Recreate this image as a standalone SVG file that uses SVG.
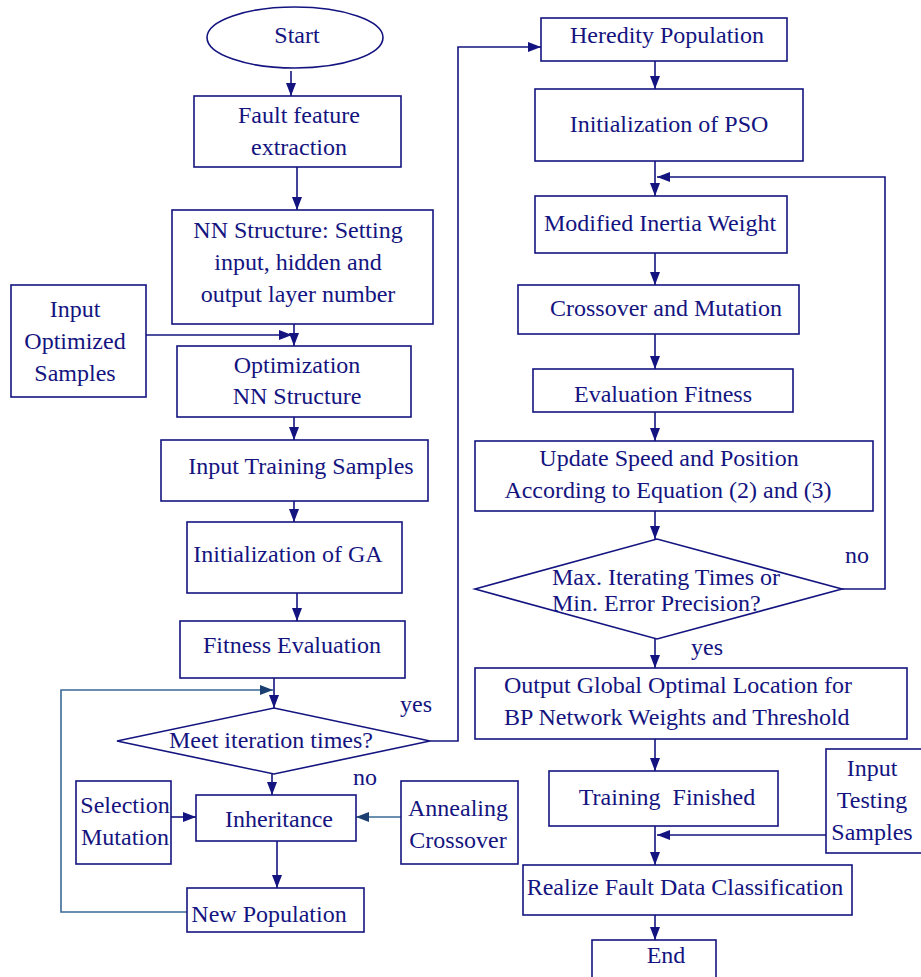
<svg xmlns="http://www.w3.org/2000/svg" width="921" height="977" viewBox="0 0 921 977">
<style>
.n rect,.n ellipse,.n polygon{fill:#fff;stroke:#141480;stroke-width:1.6}
text{font-family:"Liberation Serif","Times New Roman",serif;font-size:24px;fill:#141480;text-anchor:middle}
.s{text-anchor:start}
.c{fill:none;stroke:#141480;stroke-width:1.6}
.b{fill:none;stroke:#3a6a96;stroke-width:1.6}
</style>
<defs>
<marker id="a" markerUnits="userSpaceOnUse" markerWidth="14" markerHeight="11" refX="13" refY="5" orient="auto"><path d="M0,0 L13,5 L0,10 z" fill="#141480"/></marker>
<marker id="ab" markerUnits="userSpaceOnUse" markerWidth="14" markerHeight="11" refX="13" refY="5" orient="auto"><path d="M0,0 L13,5 L0,10 z" fill="#1a3f70"/></marker>
</defs>
<rect width="921" height="977" fill="#fff"/>
<g id="connectors">
<path class="c" d="M291,71 V96" marker-end="url(#a)"/>
<path class="c" d="M297,167 V210" marker-end="url(#a)"/>
<path class="c" d="M294,324 V346" marker-end="url(#a)"/>
<path class="c" d="M146,335 H292" marker-end="url(#a)"/>
<path class="c" d="M294,417 V440" marker-end="url(#a)"/>
<path class="c" d="M294,501 V522" marker-end="url(#a)"/>
<path class="c" d="M297,593 V621" marker-end="url(#a)"/>
<path class="c" d="M274,678 V708" marker-end="url(#a)"/>
<path class="b" d="M187,912 H61 V690 H273" marker-end="url(#ab)"/>
<path class="c" d="M430,741 H458 V47 H541" marker-end="url(#a)"/>
<path class="c" d="M272,774 V795" marker-end="url(#a)"/>
<path class="c" d="M171,817 H196" marker-end="url(#a)"/>
<path class="b" d="M401,817 H356" marker-end="url(#ab)"/>
<path class="c" d="M277,841 V888" marker-end="url(#a)"/>
<path class="c" d="M655,61 V89" marker-end="url(#a)"/>
<path class="c" d="M655,161 V196" marker-end="url(#a)"/>
<path class="c" d="M842,589 H885 V177 H657" marker-end="url(#a)"/>
<path class="c" d="M655,253 V285" marker-end="url(#a)"/>
<path class="c" d="M655,334 V369" marker-end="url(#a)"/>
<path class="c" d="M655,412 V441" marker-end="url(#a)"/>
<path class="c" d="M655,511 V539" marker-end="url(#a)"/>
<path class="c" d="M655,639 V668" marker-end="url(#a)"/>
<path class="c" d="M655,739 V771" marker-end="url(#a)"/>
<path class="c" d="M655,826 V865" marker-end="url(#a)"/>
<path class="c" d="M826,835 H657" marker-end="url(#a)"/>
<path class="c" d="M655,915 V940" marker-end="url(#a)"/>
<text x="416" y="712">yes</text>
<text x="365" y="785">no</text>
<text x="857" y="563">no</text>
<text x="707" y="655">yes</text>
</g>
<g id="start" class="n"><ellipse cx="295" cy="37.5" rx="88" ry="30.5"/><text x="297" y="43">Start</text></g>
<g id="fault" class="n"><rect x="194" y="96" width="207" height="71"/><text x="299" y="123">Fault feature</text><text x="299" y="155">extraction</text></g>
<g id="nnstructure" class="n"><rect x="172" y="210" width="261" height="114"/><text x="298" y="238">NN Structure: Setting</text><text x="298" y="270">input, hidden and</text><text x="298" y="302">output layer number</text></g>
<g id="inputopt" class="n"><rect x="11" y="285" width="135" height="112"/><text x="75" y="317">Input</text><text x="75" y="349">Optimized</text><text x="75" y="381">Samples</text></g>
<g id="optnn" class="n"><rect x="177" y="346" width="234" height="71"/><text x="297" y="373">Optimization</text><text x="297" y="404">NN Structure</text></g>
<g id="inputtrain" class="n"><rect x="161" y="440" width="267" height="61"/><text x="301" y="474">Input Training Samples</text></g>
<g id="initga" class="n"><rect x="187" y="522" width="215" height="71"/><text x="288" y="562">Initialization of GA</text></g>
<g id="fitness" class="n"><rect x="180" y="621" width="225" height="57"/><text x="292" y="653">Fitness Evaluation</text></g>
<g id="meet" class="n"><polygon points="117,741 274,708 430,741 274,774"/><text x="271" y="748">Meet iteration times?</text></g>
<g id="selection" class="n"><rect x="76" y="781" width="95" height="83"/><text x="125" y="813">Selection</text><text x="125" y="845">Mutation</text></g>
<g id="inheritance" class="n"><rect x="196" y="795" width="160" height="46"/><text x="279" y="827">Inheritance</text></g>
<g id="annealing" class="n"><rect x="401" y="781" width="117" height="83"/><text x="458" y="816">Annealing</text><text x="458" y="848">Crossover</text></g>
<g id="newpop" class="n"><rect x="187" y="888" width="177" height="44"/><text x="269" y="922">New Population</text></g>
<g id="heredity" class="n"><rect x="541" y="18" width="246" height="43"/><text x="667" y="43">Heredity Population</text></g>
<g id="initpso" class="n"><rect x="535" y="89" width="268" height="72"/><text x="669" y="132">Initialization of PSO</text></g>
<g id="inertia" class="n"><rect x="535" y="196" width="252" height="57"/><text x="660" y="231">Modified Inertia Weight</text></g>
<g id="crossmut" class="n"><rect x="518" y="285" width="281" height="49"/><text x="666" y="316">Crossover and Mutation</text></g>
<g id="evalfit" class="n"><rect x="533" y="369" width="260" height="43"/><text x="663" y="402">Evaluation Fitness</text></g>
<g id="update" class="n"><rect x="475" y="441" width="398" height="70"/><text x="669" y="466">Update Speed and Position</text><text x="668" y="498">According to Equation (2) and (3)</text></g>
<g id="maxiter" class="n"><polygon points="475,589 657,539 842,589 657,639"/><text class="s" x="552" y="585">Max. Iterating Times or</text><text class="s" x="552" y="611">Min. Error Precision?</text></g>
<g id="output" class="n"><rect x="475" y="668" width="432" height="71"/><text class="s" x="504" y="693">Output Global Optimal Location for</text><text class="s" x="504" y="725">BP Network Weights and Threshold</text></g>
<g id="training" class="n"><rect x="549" y="771" width="229" height="55"/><text x="667" y="805" style="white-space:pre">Training  Finished</text></g>
<g id="inputtest" class="n"><rect x="826" y="749" width="100" height="104"/><text x="872" y="776">Input</text><text x="872" y="808">Testing</text><text x="872" y="840">Samples</text></g>
<g id="realize" class="n"><rect x="523" y="865" width="329" height="50"/><text x="685" y="895">Realize Fault Data Classification</text></g>
<g id="end" class="n"><rect x="592" y="940" width="124" height="50"/><text x="666" y="963">End</text></g>
</svg>
